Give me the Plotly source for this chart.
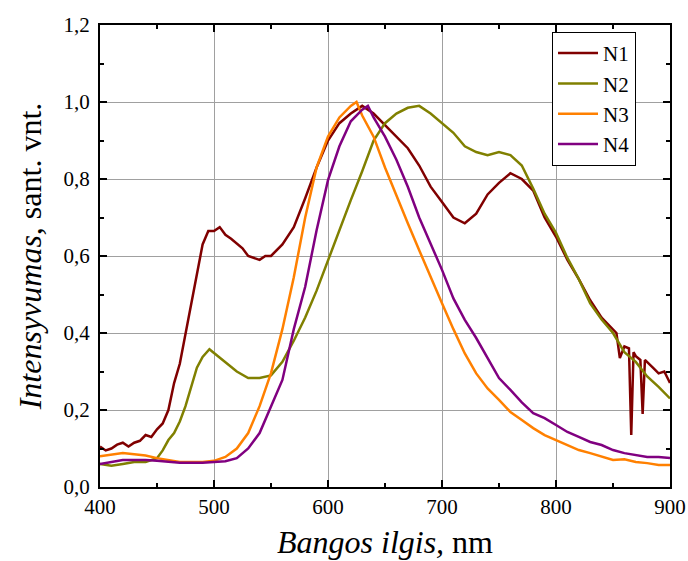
import plotly.graph_objects as go

# ---- data ----
n1_x = [400, 405, 410, 415, 420, 425, 430, 435, 440, 445, 450, 455, 460, 465, 470, 475, 480, 485, 490, 495, 500, 505, 510, 515, 520, 525, 530, 535, 540, 545, 550, 560, 570, 580, 590, 600, 610, 620, 630, 640, 650, 660, 670, 680, 690, 700, 710, 720, 730, 740, 750, 760, 770, 780, 790, 800, 810, 820, 830, 840, 850, 853, 856, 860, 864, 866, 868, 870, 874, 876, 878, 880, 885, 890, 895, 900]
n1_y = [0.105, 0.095, 0.10, 0.11, 0.115, 0.105, 0.115, 0.12, 0.135, 0.13, 0.15, 0.165, 0.20, 0.27, 0.32, 0.40, 0.47, 0.56, 0.63, 0.665, 0.665, 0.675, 0.655, 0.645, 0.633, 0.62, 0.60, 0.595, 0.59, 0.60, 0.60, 0.63, 0.675, 0.75, 0.83, 0.90, 0.945, 0.97, 0.99, 0.97, 0.94, 0.91, 0.88, 0.835, 0.78, 0.74, 0.70, 0.685, 0.71, 0.76, 0.79, 0.815, 0.80, 0.77, 0.70, 0.65, 0.59, 0.54, 0.485, 0.44, 0.41, 0.40, 0.335, 0.365, 0.36, 0.135, 0.35, 0.34, 0.33, 0.19, 0.33, 0.325, 0.31, 0.295, 0.30, 0.27]

n2_x = [400, 410, 420, 430, 440, 450, 455, 460, 465, 470, 475, 480, 485, 490, 496, 500, 510, 520, 530, 540, 550, 560, 570, 580, 590, 600, 610, 620, 630, 640, 650, 660, 670, 680, 690, 700, 710, 720, 730, 740, 750, 760, 770, 780, 790, 800, 810, 820, 830, 840, 850, 860, 870, 880, 890, 900]
n2_y = [0.06, 0.055, 0.06, 0.065, 0.065, 0.075, 0.095, 0.122, 0.14, 0.17, 0.21, 0.26, 0.31, 0.338, 0.358, 0.348, 0.325, 0.30, 0.283, 0.283, 0.29, 0.325, 0.38, 0.44, 0.51, 0.59, 0.667, 0.745, 0.82, 0.90, 0.945, 0.97, 0.985, 0.99, 0.97, 0.945, 0.92, 0.885, 0.87, 0.862, 0.87, 0.862, 0.835, 0.775, 0.71, 0.66, 0.595, 0.54, 0.477, 0.435, 0.40, 0.35, 0.325, 0.287, 0.26, 0.23]

n3_x = [400, 410, 420, 430, 440, 450, 460, 470, 480, 490, 500, 510, 520, 530, 540, 550, 560, 570, 580, 590, 600, 610, 620, 625, 630, 640, 650, 660, 670, 680, 690, 700, 710, 720, 730, 740, 750, 760, 770, 780, 790, 800, 810, 820, 830, 840, 850, 860, 870, 880, 890, 900]
n3_y = [0.08, 0.085, 0.088, 0.085, 0.082, 0.075, 0.07, 0.065, 0.065, 0.065, 0.068, 0.078, 0.10, 0.14, 0.21, 0.296, 0.41, 0.545, 0.70, 0.83, 0.91, 0.96, 0.99, 1.0, 0.965, 0.91, 0.83, 0.76, 0.685, 0.615, 0.545, 0.477, 0.41, 0.347, 0.295, 0.256, 0.226, 0.195, 0.174, 0.153, 0.135, 0.122, 0.109, 0.096, 0.088, 0.078, 0.07, 0.072, 0.065, 0.062, 0.057, 0.057]

n4_x = [400, 410, 420, 430, 440, 450, 460, 470, 480, 490, 500, 510, 520, 530, 540, 550, 560, 570, 580, 590, 600, 610, 620, 630, 635, 640, 650, 660, 670, 680, 690, 700, 710, 720, 730, 740, 750, 760, 770, 780, 790, 800, 810, 820, 830, 840, 850, 860, 870, 880, 890, 900]
n4_y = [0.06, 0.065, 0.07, 0.07, 0.07, 0.068, 0.065, 0.063, 0.063, 0.063, 0.065, 0.067, 0.075, 0.10, 0.14, 0.21, 0.278, 0.41, 0.52, 0.667, 0.797, 0.885, 0.95, 0.98, 0.99, 0.96, 0.91, 0.85, 0.78, 0.70, 0.633, 0.564, 0.49, 0.434, 0.387, 0.335, 0.283, 0.252, 0.22, 0.192, 0.179, 0.161, 0.143, 0.13, 0.117, 0.109, 0.096, 0.088, 0.083, 0.078, 0.078, 0.075]

names = ["N1", "N2", "N3", "N4"]
colors = ["#800000", "#808000", "#FF8000", "#800080"]

FONT = "Liberation Serif"

fig = go.Figure()
for name, xs, ys, c in zip(names, [n1_x, n2_x, n3_x, n4_x], [n1_y, n2_y, n3_y, n4_y], colors):
    fig.add_trace(go.Scatter(x=xs, y=ys, mode="lines", name=name,
                             line=dict(color=c, width=2.5)))

fig.update_layout(
    width=688, height=561,
    margin=dict(l=100, r=18, t=25, b=74),
    paper_bgcolor="white", plot_bgcolor="white",
    separators=", ",
    font=dict(family=FONT, size=21, color="black"),
    showlegend=True,
    legend=dict(x=0.793, y=0.985, xanchor="left", yanchor="top",
                bgcolor="white", bordercolor="black", borderwidth=1,
                font=dict(family=FONT, size=21), tracegroupgap=0,
                itemwidth=40),
)
fig.update_xaxes(
    range=[400, 900], dtick=100, tick0=400, automargin=False,
    showline=True, linecolor="black", linewidth=2, mirror="ticks",
    ticks="inside", ticklen=7, tickwidth=2, tickcolor="black",
    showgrid=True, gridcolor="#a0a0a0", gridwidth=1, zeroline=False,
    minor=dict(dtick=50, ticks="inside", ticklen=4, tickwidth=1.5, tickcolor="black", showgrid=False),
    tickfont=dict(family=FONT, size=21),
    title=dict(text="<i>Bangos ilgis,</i> nm", font=dict(family=FONT, size=32), standoff=12),
)
fig.update_yaxes(
    range=[0, 1.2], dtick=0.2, tick0=0, tickformat=".1f", automargin=False,
    showline=True, linecolor="black", linewidth=2, mirror="ticks",
    ticks="inside", ticklen=7, tickwidth=2, tickcolor="black",
    showgrid=True, gridcolor="#a0a0a0", gridwidth=1, zeroline=False,
    minor=dict(dtick=0.1, ticks="inside", ticklen=4, tickwidth=1.5, tickcolor="black", showgrid=False),
    tickfont=dict(family=FONT, size=21), ticklabelstandoff=4,
    title=dict(text="<i>Intensyvumas,</i> sant. vnt.", font=dict(family=FONT, size=32), standoff=12),
)

fig.write_html("out.html")
